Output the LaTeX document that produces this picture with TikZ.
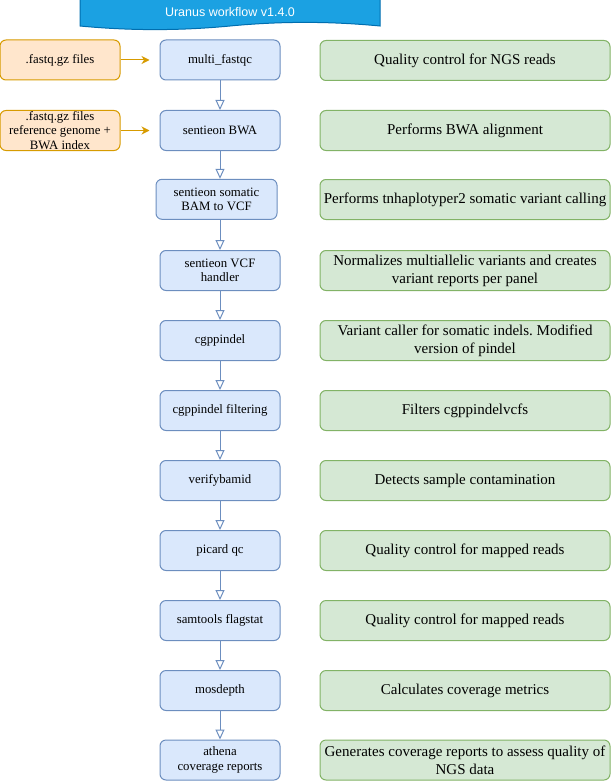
\documentclass[tikz,border=0pt]{standalone}
\usepackage{fontspec}
\setmainfont{Liberation Serif}
\newfontfamily\bannerfont{Liberation Sans}
\usetikzlibrary{arrows.meta}
\definecolor{bluefill}{HTML}{DAE8FC}
\definecolor{blueline}{HTML}{6C8EBF}
\definecolor{greenfill}{HTML}{D5E8D4}
\definecolor{greenline}{HTML}{82B366}
\definecolor{orangefill}{HTML}{FFE6CC}
\definecolor{orangeline}{HTML}{D79B00}
\definecolor{bannerfill}{HTML}{1BA1E2}
\definecolor{bannerline}{HTML}{006EAF}
\frenchspacing
\begin{document}
\begin{tikzpicture}[x=1pt,y=-1pt,
  basebox/.style={rounded corners=6pt, line width=1pt, align=center, inner sep=0pt, minimum height=40pt},
  stepbox/.style={basebox, draw=blueline, fill=bluefill, minimum width=120pt, font=\fontsize{12.8}{14.5}\selectfont},
  descbox/.style={basebox, draw=greenline, fill=greenfill, minimum width=290pt, font=\fontsize{15}{18}\selectfont},
  inbox/.style={basebox, draw=orangeline, fill=orangefill, minimum width=120pt, font=\fontsize{12.8}{14.5}\selectfont},
  flow/.style={draw=blueline, line width=1pt, -{Triangle[length=10pt,width=9pt,fill=white]}},
  feed/.style={draw=orangeline, line width=1pt, shorten >=10pt, -{Stealth[length=8pt,width=8pt,inset=2.5pt]}}
]
\useasboundingbox (0,0) rectangle (611,781);
% banner
\path[fill=bannerfill, draw=bannerline, line width=1pt]
  (80,-3) -- (380,-3) -- (380,26)
  .. controls (330,21.2) and (280,21.2) .. (230,26)
  .. controls (180,30.8) and (130,30.8) .. (80,26) -- cycle;
\node[text=white, font=\bannerfont\fontsize{12.5}{14}\selectfont] (title) at (230,12) {Uranus workflow v1.4.0};
% input boxes
\node[inbox] (i1) at (60,60) {.fastq.gz files};
\node[inbox] (i2) at (60,130.5) {.fastq.gz files\\reference genome +\\BWA index};
% step boxes
\node[stepbox] (b1) at (220,60) {multi\_fastqc};
\node[stepbox] (b2) at (220,130.5) {sentieon BWA};
\node[stepbox, minimum width=121pt] (b3) at (216.5,199.3) {sentieon somatic\\BAM to VCF};
\node[stepbox] (b4) at (220,270.5) {sentieon VCF\\handler};
\node[stepbox] (b5) at (220,340.5) {cgppindel};
\node[stepbox] (b6) at (220,410.5) {cgppindel filtering};
\node[stepbox] (b7) at (220,480.5) {verifybamid};
\node[stepbox] (b8) at (220,550.5) {picard qc};
\node[stepbox] (b9) at (220,620.5) {samtools flagstat};
\node[stepbox] (b10) at (220,690.5) {mosdepth};
\node[stepbox] (b11) at (220,760) {athena\\coverage reports};
% description boxes
\node[descbox] (d1) at (465,60.5) {Quality control for NGS reads};
\node[descbox] (d2) at (465,130.5) {Performs BWA alignment};
\node[descbox] (d3) at (465,199.5) {Performs tnhaplotyper2 somatic variant calling};
\node[descbox] (d4) at (465,270.5) {Normalizes multiallelic variants and creates\\variant reports per panel};
\node[descbox] (d5) at (465,340.5) {Variant caller for somatic indels. Modified\\version of pindel};
\node[descbox] (d6) at (465,410.5) {Filters cgppindelvcfs};
\node[descbox] (d7) at (465,480.5) {Detects sample contamination};
\node[descbox] (d8) at (465,550.5) {Quality control for mapped reads};
\node[descbox] (d9) at (465,620.5) {Quality control for mapped reads};
\node[descbox] (d10) at (465,690.5) {Calculates coverage metrics};
\node[descbox] (d11) at (465,760) {Generates coverage reports to assess quality of\\NGS data};
% connectors
\draw[feed] (i1.east) -- (b1.west);
\draw[feed] (i2.east) -- (b2.west);
\draw[flow] (b1.south) -- (b2.north);
\draw[flow] (b2.south) -- (b3.north -| b2.south);
\draw[flow] (b3.south -| b4.north) -- (b4.north);
\draw[flow] (b4.south) -- (b5.north);
\draw[flow] (b5.south) -- (b6.north);
\draw[flow] (b6.south) -- (b7.north);
\draw[flow] (b7.south) -- (b8.north);
\draw[flow] (b8.south) -- (b9.north);
\draw[flow] (b9.south) -- (b10.north);
\draw[flow] (b10.south) -- (b11.north);
\end{tikzpicture}
\end{document}
